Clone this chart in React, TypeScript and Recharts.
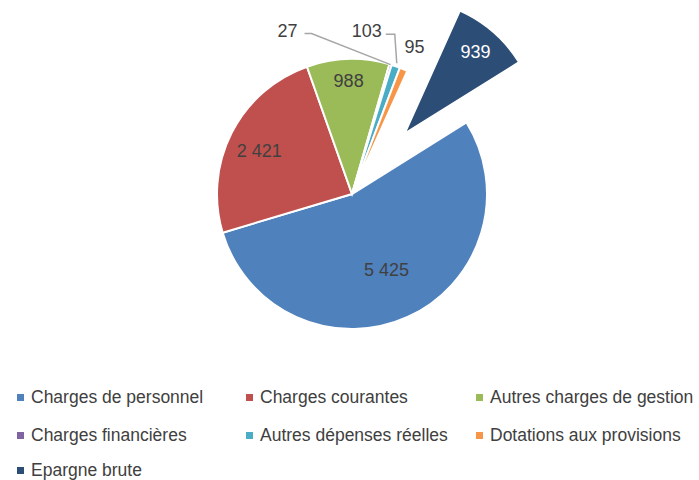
import React from "react";
import { PieChart, Pie, Cell } from "recharts";

const categories = [
  "Charges de personnel",
  "Charges courantes",
  "Autres charges de gestion",
  "Charges financières",
  "Autres dépenses réelles",
  "Dotations aux provisions",
  "Epargne brute",
];
const amounts = [5425, 2421, 988, 27, 103, 95, 939];
const valueLabels = ["5 425", "2 421", "988", "27", "103", "95", "939"];

const COLORS = ["#4F81BD", "#C0504D", "#9BBB59", "#8064A2", "#4BACC6", "#F79646", "#2C4D75"];
const EXPLODED = 6;
const FONT = "'Liberation Sans', Arial, sans-serif";
const TEXT = "#404040";

// pie geometry
const CX = 352;
const CY = 194;
const R = 135;
const START = 32; // first slice starts ~58deg clockwise from 12 o'clock
const EXPLODE_DIST = 80;

// where Excel put each label (fraction of radius for inside labels, offsets for callouts)
const insideRadius: Record<number, number> = { 0: 0.62, 1: 0.77, 2: 0.84, 6: 0.8 };
const callouts: Record<number, { dx: number; dy: number; leader: "left" | "up" | null }> = {
  3: { dx: -103, dy: -34, leader: "left" },
  4: { dx: -29, dy: -35, leader: "up" },
  5: { dx: 11, dy: -22, leader: null },
};

const data = categories.map((name, i) => ({ name, value: amounts[i], label: valueLabels[i] }));

const RAD = Math.PI / 180;

function makeLabel(showExploded: boolean) {
  return (props: any) => {
    const { cx, cy, midAngle, outerRadius, index } = props;
    if ((index === EXPLODED) !== showExploded) return null;
    const cos = Math.cos(-midAngle * RAD);
    const sin = Math.sin(-midAngle * RAD);
    const text = valueLabels[index];
    if (insideRadius[index] !== undefined) {
      const r = outerRadius * insideRadius[index];
      return (
        <text
          key={`l-${index}`}
          x={cx + r * cos}
          y={cy + r * sin + (index === 1 ? 4 : 0)}
          textAnchor="middle"
          dominantBaseline="central"
          fontFamily={FONT}
          fontSize={18}
          fill={index === EXPLODED ? "#ffffff" : TEXT}
        >
          {text}
        </text>
      );
    }
    const c = callouts[index];
    const ex = cx + outerRadius * cos;
    const ey = cy + outerRadius * sin;
    const lx = ex + c.dx;
    const ly = ey + c.dy;
    let path = "";
    if (c.leader === "left") {
      path = `M${ex},${ey} L${lx + 24},${ly + 3} L${lx + 17},${ly + 3}`;
    } else if (c.leader === "up") {
      path = `M${ex + 1},${ey - 3} L${ex - 1},${ly + 3} L${lx + 19},${ly + 3}`;
    }
    return (
      <g key={`l-${index}`}>
        {path && <path d={path} stroke="#A6A6A6" strokeWidth={1.5} fill="none" />}
        <text
          x={lx}
          y={ly}
          textAnchor="middle"
          dominantBaseline="central"
          fontFamily={FONT}
          fontSize={18}
          fill={TEXT}
        >
          {text}
        </text>
      </g>
    );
  };
}

function explodedCenter() {
  // mid angle of the exploded slice, measured like recharts (ccw from 3 o'clock)
  const total = amounts.reduce((a, b) => a + b, 0);
  const before = amounts.slice(0, EXPLODED).reduce((a, b) => a + b, 0);
  const mid = START - ((before + amounts[EXPLODED] / 2) / total) * 360;
  return {
    x: CX + EXPLODE_DIST * Math.cos(mid * RAD),
    y: CY - EXPLODE_DIST * Math.sin(mid * RAD),
  };
}

function Legend() {
  const colX = [17, 246, 476];
  const rowY = [394, 432, 467];
  return (
    <>
      {categories.map((name, i) => (
        <div
          key={name}
          style={{
            position: "absolute",
            left: colX[i % 3],
            top: rowY[Math.floor(i / 3)] - 7,
            display: "flex",
            alignItems: "center",
            fontFamily: FONT,
            fontSize: 17.5,
            color: TEXT,
            whiteSpace: "nowrap",
            lineHeight: "21px",
          }}
        >
          <span style={{ width: 7, height: 7, background: COLORS[i], marginRight: 7, display: "inline-block" }} />
          {name}
        </div>
      ))}
    </>
  );
}

export default function App() {
  const ec = explodedCenter();
  return (
    <div style={{ position: "absolute", left: 0, top: 0, width: 699, height: 480, background: "#fff", overflow: "hidden" }}>
      <PieChart width={699} height={370} margin={{ top: 0, right: 0, bottom: 0, left: 0 }}>
        <Pie
          data={data}
          dataKey="value"
          nameKey="name"
          cx={CX}
          cy={CY}
          outerRadius={R}
          startAngle={START}
          endAngle={START - 360}
          stroke="#ffffff"
          strokeWidth={2}
          label={makeLabel(false)}
          labelLine={false}
          isAnimationActive={false}
        >
          {data.map((d, i) => (
            <Cell
              key={d.name}
              fill={i === EXPLODED ? "transparent" : COLORS[i]}
              stroke={i === EXPLODED ? "none" : "#ffffff"}
            />
          ))}
        </Pie>
        <Pie
          data={data}
          dataKey="value"
          nameKey="name"
          cx={ec.x}
          cy={ec.y}
          outerRadius={R}
          startAngle={START}
          endAngle={START - 360}
          stroke="#ffffff"
          strokeWidth={2}
          label={makeLabel(true)}
          labelLine={false}
          isAnimationActive={false}
        >
          {data.map((d, i) => (
            <Cell
              key={d.name}
              fill={i === EXPLODED ? COLORS[i] : "transparent"}
              stroke={i === EXPLODED ? "#ffffff" : "none"}
            />
          ))}
        </Pie>
      </PieChart>
      <Legend />
    </div>
  );
}
